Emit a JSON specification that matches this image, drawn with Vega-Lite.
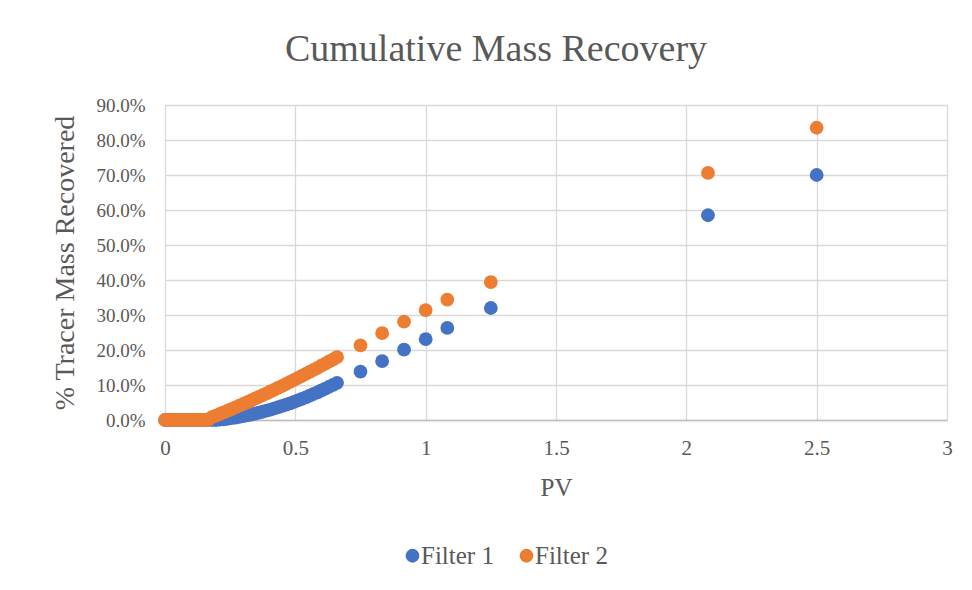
{
  "$schema": "https://vega.github.io/schema/vega-lite/v6.json",
  "width": 782,
  "height": 315,
  "autosize": {"type": "none"},
  "padding": {"left": 165, "top": 105, "right": 25, "bottom": 170},
  "background": "white",
  "title": {
    "text": "Cumulative Mass Recovery",
    "font": "Liberation Serif",
    "fontSize": 38,
    "fontWeight": "normal",
    "color": "#595959",
    "anchor": "middle",
    "baseline": "alphabetic",
    "offset": 43,
    "dy": 46,
    "dx": -60
  },
  "config": {
    "view": {"stroke": null},
    "axis": {"labelFont": "Liberation Serif", "titleFont": "Liberation Serif", "labelColor": "#595959", "titleColor": "#595959", "titleFontWeight": "normal", "gridColor": "#d9d9d9", "gridWidth": 1.3, "ticks": false},
    "legend": {"labelFont": "Liberation Serif", "labelColor": "#595959"}
  },
  "data": {
    "values": [
      {"f":"Filter 1","pv":0,"r":0},{"f":"Filter 1","pv":0.015,"r":0},{"f":"Filter 1","pv":0.03,"r":0},{"f":"Filter 1","pv":0.045,"r":0},{"f":"Filter 1","pv":0.06,"r":0},{"f":"Filter 1","pv":0.075,"r":0},{"f":"Filter 1","pv":0.09,"r":0},{"f":"Filter 1","pv":0.105,"r":0},{"f":"Filter 1","pv":0.12,"r":0},{"f":"Filter 1","pv":0.135,"r":0},{"f":"Filter 1","pv":0.15,"r":0},{"f":"Filter 1","pv":0.165,"r":0},{"f":"Filter 1","pv":0.18,"r":0},{"f":"Filter 1","pv":0.195,"r":0},
      {"f":"Filter 1","pv":0.21,"r":0.08},{"f":"Filter 1","pv":0.225,"r":0.21},{"f":"Filter 1","pv":0.24,"r":0.36},{"f":"Filter 1","pv":0.255,"r":0.52},{"f":"Filter 1","pv":0.27,"r":0.70},{"f":"Filter 1","pv":0.285,"r":0.89},{"f":"Filter 1","pv":0.3,"r":1.10},{"f":"Filter 1","pv":0.315,"r":1.32},{"f":"Filter 1","pv":0.33,"r":1.56},{"f":"Filter 1","pv":0.345,"r":1.81},{"f":"Filter 1","pv":0.36,"r":2.08},{"f":"Filter 1","pv":0.375,"r":2.36},{"f":"Filter 1","pv":0.39,"r":2.66},{"f":"Filter 1","pv":0.405,"r":2.97},{"f":"Filter 1","pv":0.42,"r":3.30},{"f":"Filter 1","pv":0.435,"r":3.65},{"f":"Filter 1","pv":0.45,"r":4.01},{"f":"Filter 1","pv":0.465,"r":4.38},{"f":"Filter 1","pv":0.48,"r":4.77},{"f":"Filter 1","pv":0.495,"r":5.17},{"f":"Filter 1","pv":0.51,"r":5.59},{"f":"Filter 1","pv":0.525,"r":6.03},{"f":"Filter 1","pv":0.54,"r":6.48},{"f":"Filter 1","pv":0.555,"r":6.95},{"f":"Filter 1","pv":0.57,"r":7.43},{"f":"Filter 1","pv":0.585,"r":7.92},{"f":"Filter 1","pv":0.6,"r":8.43},{"f":"Filter 1","pv":0.615,"r":8.96},{"f":"Filter 1","pv":0.63,"r":9.50},{"f":"Filter 1","pv":0.645,"r":10.06},{"f":"Filter 1","pv":0.66,"r":10.63},
      {"f":"Filter 1","pv":0.75,"r":13.8},{"f":"Filter 1","pv":0.833,"r":16.8},{"f":"Filter 1","pv":0.917,"r":20.1},{"f":"Filter 1","pv":1.0,"r":23.1},{"f":"Filter 1","pv":1.083,"r":26.3},{"f":"Filter 1","pv":1.25,"r":32.0},{"f":"Filter 1","pv":2.083,"r":58.5},{"f":"Filter 1","pv":2.5,"r":70.0},
      {"f":"Filter 2","pv":0,"r":0},{"f":"Filter 2","pv":0.015,"r":0},{"f":"Filter 2","pv":0.03,"r":0},{"f":"Filter 2","pv":0.045,"r":0},{"f":"Filter 2","pv":0.06,"r":0},{"f":"Filter 2","pv":0.075,"r":0},{"f":"Filter 2","pv":0.09,"r":0},{"f":"Filter 2","pv":0.105,"r":0},{"f":"Filter 2","pv":0.12,"r":0},{"f":"Filter 2","pv":0.135,"r":0},{"f":"Filter 2","pv":0.15,"r":0},{"f":"Filter 2","pv":0.165,"r":0},
      {"f":"Filter 2","pv":0.18,"r":0.80},{"f":"Filter 2","pv":0.195,"r":1.25},{"f":"Filter 2","pv":0.21,"r":1.71},{"f":"Filter 2","pv":0.225,"r":2.17},{"f":"Filter 2","pv":0.24,"r":2.64},{"f":"Filter 2","pv":0.255,"r":3.12},{"f":"Filter 2","pv":0.27,"r":3.60},{"f":"Filter 2","pv":0.285,"r":4.08},{"f":"Filter 2","pv":0.3,"r":4.57},{"f":"Filter 2","pv":0.315,"r":5.07},{"f":"Filter 2","pv":0.33,"r":5.57},{"f":"Filter 2","pv":0.345,"r":6.08},{"f":"Filter 2","pv":0.36,"r":6.59},{"f":"Filter 2","pv":0.375,"r":7.11},{"f":"Filter 2","pv":0.39,"r":7.63},{"f":"Filter 2","pv":0.405,"r":8.16},{"f":"Filter 2","pv":0.42,"r":8.69},{"f":"Filter 2","pv":0.435,"r":9.23},{"f":"Filter 2","pv":0.45,"r":9.78},{"f":"Filter 2","pv":0.465,"r":10.33},{"f":"Filter 2","pv":0.48,"r":10.88},{"f":"Filter 2","pv":0.495,"r":11.44},{"f":"Filter 2","pv":0.51,"r":12.01},{"f":"Filter 2","pv":0.525,"r":12.58},{"f":"Filter 2","pv":0.54,"r":13.16},{"f":"Filter 2","pv":0.555,"r":13.74},{"f":"Filter 2","pv":0.57,"r":14.33},{"f":"Filter 2","pv":0.585,"r":14.92},{"f":"Filter 2","pv":0.6,"r":15.52},{"f":"Filter 2","pv":0.615,"r":16.12},{"f":"Filter 2","pv":0.63,"r":16.73},{"f":"Filter 2","pv":0.645,"r":17.34},{"f":"Filter 2","pv":0.66,"r":17.96},
      {"f":"Filter 2","pv":0.75,"r":21.3},{"f":"Filter 2","pv":0.833,"r":24.8},{"f":"Filter 2","pv":0.917,"r":28.1},{"f":"Filter 2","pv":1.0,"r":31.4},{"f":"Filter 2","pv":1.083,"r":34.4},{"f":"Filter 2","pv":1.25,"r":39.4},{"f":"Filter 2","pv":2.083,"r":70.6},{"f":"Filter 2","pv":2.5,"r":83.5}
    ]
  },
  "mark": {"type": "point", "filled": true, "shape": "circle", "size": 190, "opacity": 1},
  "encoding": {
    "x": {
      "field": "pv", "type": "quantitative",
      "scale": {"domain": [0, 3], "nice": false, "zero": false},
      "axis": {"title": "PV", "values": [0, 0.5, 1, 1.5, 2, 2.5, 3], "format": "~g", "labelFontSize": 21, "titleFontSize": 25, "labelPadding": 17, "titlePadding": 17, "domainColor": "#bfbfbf", "domainWidth": 1.3, "labelFlush": false}
    },
    "y": {
      "field": "r", "type": "quantitative",
      "scale": {"domain": [0, 90], "nice": false},
      "axis": {"title": "% Tracer Mass Recovered", "values": [0, 10, 20, 30, 40, 50, 60, 70, 80, 90], "labelExpr": "format(datum.value, '.1f') + '%'", "labelFontSize": 19, "titleFontSize": 28, "labelPadding": 20, "titlePadding": 16, "domain": false}
    },
    "color": {
      "field": "f", "type": "nominal",
      "scale": {"domain": ["Filter 1", "Filter 2"], "range": ["#4472C4", "#ED7D31"]},
      "legend": {"title": null, "orient": "none", "direction": "horizontal", "legendX": 235, "legendY": 438, "labelFontSize": 25, "symbolSize": 190, "symbolType": "circle", "columnPadding": 20, "labelOffset": -4}
    }
  }
}
